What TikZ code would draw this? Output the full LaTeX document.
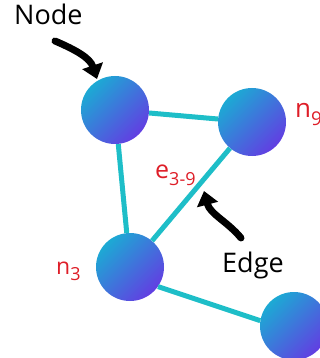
\documentclass[tikz,border=0pt]{standalone}
\usepackage{fontspec}
\setmainfont{Open Sans}
\usetikzlibrary{arrows.meta}
\definecolor{ballA}{RGB}{28,170,212}
\definecolor{ballB}{RGB}{98,62,226}
\definecolor{edgecol}{RGB}{30,190,200}
\definecolor{lblred}{RGB}{222,30,40}
\begin{document}
\begin{tikzpicture}[x=1pt,y=-1pt,
  ball/.style={circle, minimum size=68pt, inner sep=0pt, top color=ballA, bottom color=ballB, shading angle=45},
  link/.style={draw=edgecol, line width=5pt},
  pointer/.style={draw=black, line width=7pt, line cap=round, -{Triangle[width=21pt,length=14pt]}},
  bigtxt/.style={font=\fontsize{27}{32}\selectfont, anchor=base west, inner sep=0pt},
  redtxt/.style={text=lblred, anchor=base west, inner sep=0pt}]
\clip (0,0) rectangle (320,358);
\node[ball] (A) at (115,110) {};
\node[ball] (B) at (252,122) {};
\node[ball] (C) at (130,267) {};
\node[ball] (D) at (294,326) {};
\draw[link] (A) -- (B);
\draw[link] (A) -- (C);
\draw[link] (B) -- (C);
\draw[link] (C.-35) -- (D.171);
\node[bigtxt] (nodelbl) at (14,25) {Node};
\node[bigtxt] (edgelbl) at (222,272) {Edge};
\coordinate (na0) at (55,41);
\coordinate (na1) at (97,79);
\draw[pointer] (na0) .. controls (76,50) and (90,58) .. (na1);
\coordinate (ea0) at (241,238);
\coordinate (ea1) at (204,191);
\draw[pointer] (ea0) .. controls (228,222) and (210,214) .. (ea1);
\node[redtxt, font=\fontsize{26}{30}\selectfont] (n9) at (295,118) {n\raisebox{-0.3em}{\fontsize{19}{22}\selectfont 9}};
\node[redtxt, font=\fontsize{23}{28}\selectfont] (n3) at (56,274) {n\raisebox{-0.3em}{\fontsize{18}{22}\selectfont 3}};
\node[redtxt, font=\fontsize{25}{30}\selectfont] (e39) at (155,178) {e\raisebox{-0.3em}{\fontsize{18}{22}\selectfont 3-9}};
\end{tikzpicture}
\end{document}
